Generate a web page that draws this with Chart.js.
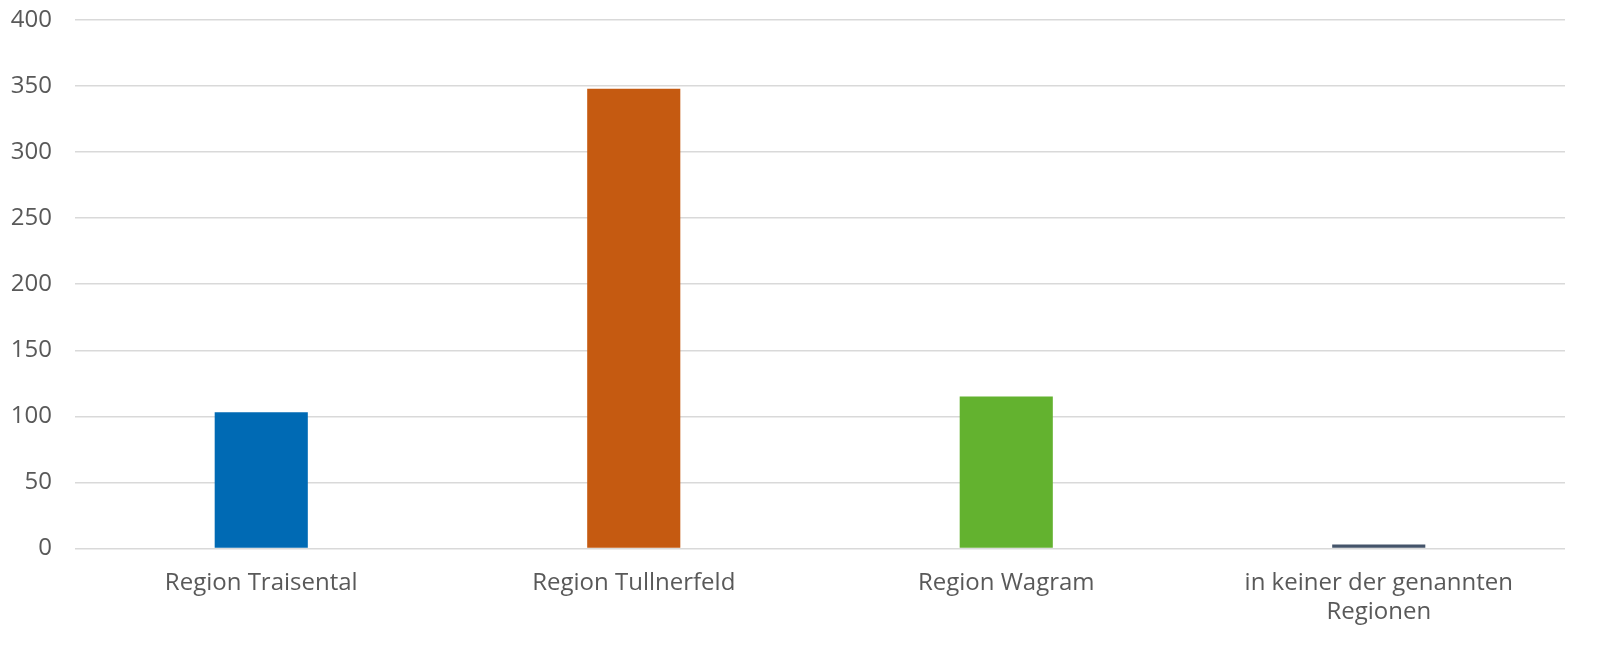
<!DOCTYPE html>
<html>
<head>
<meta charset="utf-8">
<script src="https://cdn.jsdelivr.net/npm/chart.js@4.4.1/dist/chart.umd.min.js"></script>
<style>
  html, body { margin: 0; padding: 0; background: #fff; }
</style>
</head>
<body>
<canvas id="chart" width="1617" height="650"></canvas>
<script>
// categories and values
var regions = ["Region Traisental", "Region Tullnerfeld", "Region Wagram", ["in keiner der genannten", "Regionen"]];
var counts = [103, 348, 115, 3];
var barColors = ["#006AB4", "#C55A11", "#63B22F", "#44546A"];

var ctx = document.getElementById("chart");
var myChart = new Chart(ctx, {
    type: "bar",
    data: {
        labels: regions,
        datasets: [{
            data: counts,
            backgroundColor: barColors,
            borderWidth: 0,
            barPercentage: 1,
            categoryPercentage: 0.25
        }]
    },
    options: {
        responsive: false,
        animation: false,
        layout: { padding: { left: 10, right: 52, top: 0, bottom: 3 } },
        plugins: { legend: { display: false }, tooltip: { enabled: false } },
        scales: {
            x: {
                grid: { display: false, drawTicks: false },
                border: { display: false },
                ticks: {
                    color: "#595959",
                    padding: 20,
                    font: { family: "Open Sans", size: 24, lineHeight: 1.22 },
                    maxRotation: 0
                }
            },
            y: {
                min: 0,
                max: 400,
                grid: { color: "#d9d9d9", lineWidth: 1.5, drawTicks: false },
                border: { display: false },
                afterFit: function (scale) {
                    // fixed axis width, and keep the tick padding out of the top margin
                    scale.width = 65;
                    scale.paddingTop = 20;
                },
                ticks: {
                    stepSize: 50,
                    color: "#595959",
                    padding: 23,
                    font: { family: "Open Sans", size: 24 }
                }
            }
        }
    }
});
</script>
</body>
</html>
